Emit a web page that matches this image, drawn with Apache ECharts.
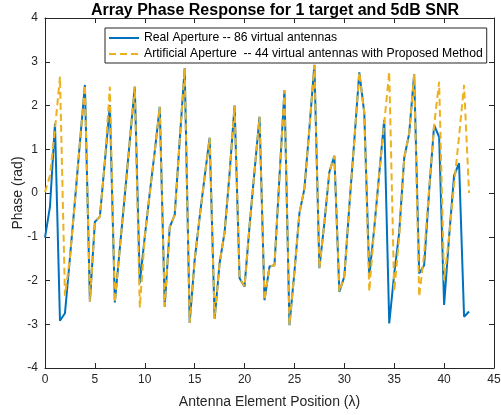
<!DOCTYPE html>
<html>
<head>
<meta charset="utf-8">
<script src="https://cdn.jsdelivr.net/npm/echarts@6/dist/echarts.min.js"></script>
<style>
  html, body { margin: 0; padding: 0; background: #fff; }
  #chart { width: 501px; height: 415px; }
</style>
</head>
<body>
<div id="chart"></div>
<script>
// Antenna element positions (in wavelengths)
const positions = [
  0, 0.5, 1, 1.5, 2, 2.5, 3, 3.5, 4, 4.5,
  5, 5.5, 6, 6.5, 7, 7.5, 8, 8.5, 9, 9.5,
  10, 10.5, 11, 11.5, 12, 12.5, 13, 13.5, 14, 14.5,
  15, 15.5, 16, 16.5, 17, 17.5, 18, 18.5, 19, 19.5,
  20, 20.5, 21, 21.5, 22, 22.5, 23, 23.5, 24, 24.5,
  25, 25.5, 26, 26.5, 27, 27.5, 28, 28.5, 29, 29.5,
  30, 30.5, 31, 31.5, 32, 32.5, 33, 33.5, 34, 34.5,
  35, 35.5, 36, 36.5, 37, 37.5, 38, 38.5, 39, 39.5,
  40, 40.5, 41, 41.5, 42, 42.5
];

// Phase (rad) measured over the real 86-element aperture
const realPhase = [
  -1.02, -0.31, 1.59, -2.92, -2.75, -1.48, -0.18, 1.15, 2.47, -2.48,
  -0.66, -0.54, 0.72, 2.01, -2.50, -1.26, -0.05, 1.20, 2.43, -2.06,
  -1.00, 0.00, 0.95, 1.97, -2.60, -0.78, -0.50, 1.20, 2.85, -2.97,
  -1.53, -0.55, 0.37, 1.26, -2.88, -1.60, -0.90, 0.45, 2.00, -1.95,
  -2.14, -0.75, 0.50, 1.74, -2.45, -1.68, -1.65, 0.37, 2.35, -3.02,
  -1.80, -0.46, 0.10, 1.48, 2.93, -1.72, -0.68, 0.48, 0.85, -2.26,
  -1.91, -0.30, 1.20, 2.76, 1.83, -1.90, -0.80, 0.45, 1.67, -2.98,
  -1.85, -0.90, 0.80, 1.36, 2.72, -1.84, -1.65, 0.05, 1.55, 1.28,
  -2.56, -1.00, 0.40, 0.68, -2.83, -2.71
];

// Phase (rad) from the 44-element artificial aperture (proposed method)
const artificialPhase = [
  0.02, 0.40, 1.45, 2.66, -2.35, -1.48, -0.18, 1.15, 2.47, -2.48,
  -0.66, -0.54, 0.72, 2.43, -2.50, -1.26, -0.05, 1.20, 2.43, -2.62,
  -1.00, 0.00, 0.95, 1.97, -2.60, -0.78, -0.50, 1.20, 2.85, -2.97,
  -1.53, -0.55, 0.37, 1.26, -2.88, -1.60, -0.90, 0.45, 2.00, -1.95,
  -2.14, -0.75, 0.50, 1.74, -2.45, -1.68, -1.65, 0.37, 2.35, -3.02,
  -1.80, -0.46, 0.10, 1.48, 2.93, -1.72, -0.68, 0.48, 0.85, -2.26,
  -1.91, -0.30, 1.20, 2.76, 1.83, -2.25, -0.80, 0.45, 1.60, 2.77,
  -2.25, -1.00, 0.80, 1.36, 2.72, -2.37, -1.40, 0.10, 1.55, 2.54,
  -2.00, -1.00, 0.20, 1.30, 2.47, 0.00
];

const seriesNames = [
  'Real Aperture -- 86 virtual antennas',
  'Artificial Aperture  -- 44 virtual antennas with Proposed Method'
];

const xTicks = { min: 0, max: 45, step: 5 };
const yTicks = { min: -4, max: 4, step: 1 };

const toPairs = (xs, ys) => xs.map((x, i) => [x, ys[i]]);

const FONT = '"Liberation Sans", Arial, Helvetica, sans-serif';
const AXIS_COLOR = '#262626';

const frameAxis = (extra) => Object.assign({
  type: 'value',
  nameMoveOverlap: false,
  axisLine: { show: true, onZero: false, lineStyle: { color: AXIS_COLOR, width: 1 } },
  axisTick: { show: true, inside: true, length: 5, lineStyle: { color: AXIS_COLOR } },
  splitLine: { show: false },
}, extra);

const chart = echarts.init(document.getElementById('chart'), null, { renderer: 'canvas' });

chart.setOption({
  animation: false,
  backgroundColor: '#ffffff',
  textStyle: { fontFamily: FONT },
  title: {
    text: 'Array Phase Response for 1 target and 5dB SNR',
    left: 270,
    textAlign: 'center',
    top: -2,
    textStyle: { fontFamily: FONT, fontSize: 16, fontWeight: 'bold', color: '#000' }
  },
  grid: {
    left: 45, right: 7, top: 18, bottom: 47,
    containLabel: false,
    outerBoundsMode: 'none'
  },
  legend: {
    orient: 'vertical',
    left: 105,
    top: 28,
    padding: [4, 4, 3, 3],
    itemGap: 4,
    itemWidth: 30,
    itemHeight: 12,
    backgroundColor: '#ffffff',
    borderColor: AXIS_COLOR,
    borderWidth: 1,
    borderRadius: 0,
    itemStyle: { opacity: 0 },
    textStyle: { fontFamily: FONT, fontSize: 12.2, color: '#000' },
    data: seriesNames
  },
  xAxis: [
    frameAxis({
      min: xTicks.min, max: xTicks.max, interval: xTicks.step,
      position: 'bottom',
      name: 'Antenna Element Position (λ)',
      nameLocation: 'middle',
      nameGap: 27,
      nameTextStyle: { fontFamily: FONT, fontSize: 14, color: AXIS_COLOR },
      axisLabel: { show: true, margin: 6, fontSize: 12, color: AXIS_COLOR, fontFamily: FONT }
    }),
    frameAxis({
      min: xTicks.min, max: xTicks.max, interval: xTicks.step,
      position: 'top',
      axisLabel: { show: false }
    })
  ],
  yAxis: [
    frameAxis({
      min: yTicks.min, max: yTicks.max, interval: yTicks.step,
      position: 'left',
      name: 'Phase (rad)',
      nameLocation: 'middle',
      nameGap: 20,
      nameTextStyle: { fontFamily: FONT, fontSize: 14, color: AXIS_COLOR },
      axisLabel: { show: true, margin: 7, fontSize: 12, color: AXIS_COLOR, fontFamily: FONT }
    }),
    frameAxis({
      min: yTicks.min, max: yTicks.max, interval: yTicks.step,
      position: 'right',
      axisLabel: { show: false }
    })
  ],
  series: [
    {
      name: seriesNames[0],
      type: 'line',
      data: toPairs(positions, realPhase),
      symbol: 'none',
      lineStyle: { color: '#0072BD', width: 2 },
      itemStyle: { color: '#0072BD' },
      z: 2
    },
    {
      name: seriesNames[1],
      type: 'line',
      data: toPairs(positions, artificialPhase),
      symbol: 'none',
      lineStyle: { color: '#EDB120', width: 2, type: [7, 4] },
      itemStyle: { color: '#EDB120' },
      z: 3
    }
  ]
});
</script>
</body>
</html>
